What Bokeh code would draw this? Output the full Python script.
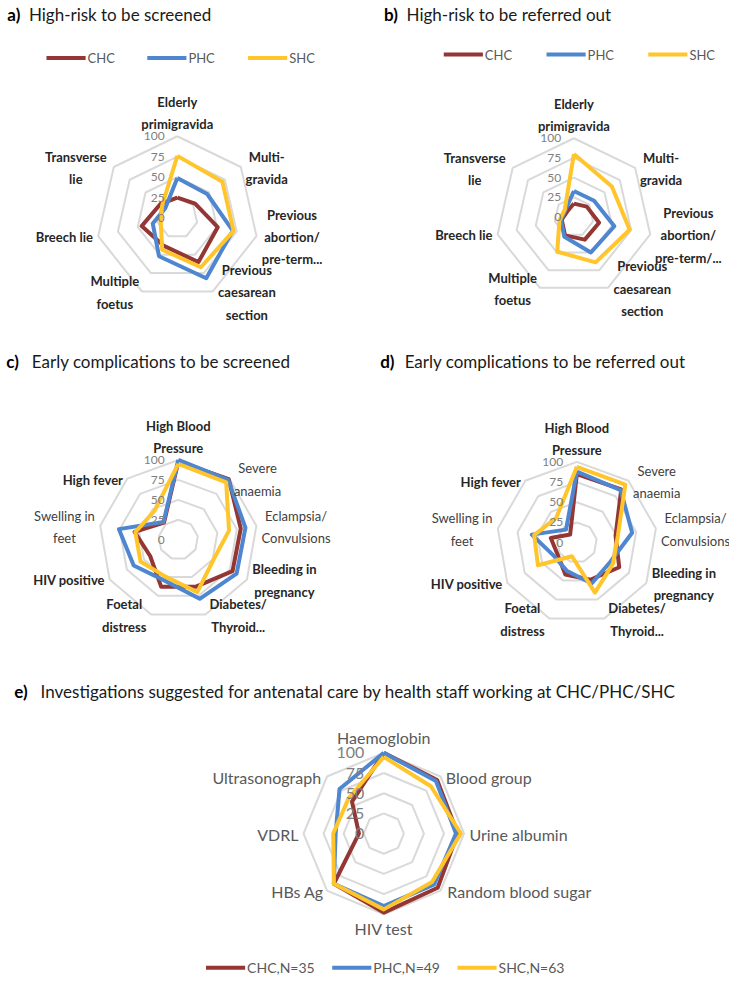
import math
from bokeh.plotting import figure
from bokeh.models import Range1d
from bokeh.core.properties import value
from bokeh.embed import file_html
from bokeh.resources import INLINE

# ---------------- data ----------------
series_names = ["CHC", "PHC", "SHC"]
series_names_e = ["CHC,N=35", "PHC,N=49", "SHC,N=63"]
ticks = [0, 25, 50, 75, 100]
tick_labels = ["0", "25", "50", "75", "100"]

cats_a = ["Elderly\nprimigravida", "Multi-\ngravida", "Previous\nabortion/\npre-term...",
          "Previous\ncaesarean\nsection", "Multiple\nfoetus", "Breech lie", "Transverse\nlie"]
a_chc = [25, 28, 51, 60, 38, 45, 27]
a_phc = [49, 47, 70, 82, 52, 31, 19]
a_shc = [76, 71, 71, 67, 43, 21, 24]

cats_b = ["Elderly\nprimigravida", "Multi-\ngravida", "Previous\nabortion/\npre-term/...",
          "Previous\ncaesarean\nsection", "Multiple\nfoetus", "Breech lie", "Transverse\nlie"]
b_chc = [17, 21, 33, 32, 26, 16, 11]
b_phc = [33, 33, 53, 50, 28, 17, 14]
b_shc = [80, 62, 73, 64, 49, 19, 15]

cats_cd = ["High Blood\nPressure", "Severe\nanaemia", "Eclampsia/\nConvulsions",
           "Bleeding in\npregnancy", "Diabetes/\nThyroid...", "Foetal\ndistress",
           "HIV positive", "Swelling in\nfeet", "High fever"]
c_chc = [98, 99, 80, 79, 63, 63, 41, 56, 28]
c_phc = [100, 98, 86, 85, 79, 54, 65, 76, 29]
c_shc = [95, 94, 65, 51, 70, 49, 55, 55, 47]

d_chc = [85, 86, 49, 61, 49, 42, 28, 33, 13]
d_phc = [88, 85, 70, 48, 54, 37, 33, 57, 21]
d_shc = [94, 94, 52, 52, 66, 18, 56, 54, 40]

cats_e = ["Haemoglobin", "Blood group", "Urine albumin", "Random blood sugar",
          "HIV test", "HBs Ag", "VDRL", "Ultrasonograph"]
e_chc = [100, 94, 92, 95, 98, 88, 31, 56]
e_phc = [100, 92, 90, 89, 90, 88, 60, 78]
e_shc = [95, 83, 96, 85, 94, 88, 63, 62]

titles_bold = ["a)", "b)", "c)", "d)", "e)"]
titles_text = ["High-risk to be screened", "High-risk to be referred out",
               "Early complications to be screened", "Early complications to be referred out",
               "Investigations suggested for antenatal care by health staff working at CHC/PHC/SHC"]

# ---------------- style ----------------
COLORS = ["#943634", "#4F86D0", "#FFC52A"]
RING = "#D9D9D9"
FONT = value("Lato")
BOLD_CD = [True, False, False, True, True, True, True, False, True]

# rough Lato glyph advance widths (em) used only to centre multi-line labels
_W = {"a": .49, "b": .54, "c": .45, "d": .54, "e": .50, "f": .31, "g": .49, "h": .54,
      "i": .24, "j": .24, "k": .49, "l": .24, "m": .81, "n": .54, "o": .54, "p": .54,
      "q": .54, "r": .36, "s": .42, "t": .34, "u": .54, "v": .49, "w": .74, "x": .48,
      "y": .49, "z": .44, " ": .19, "-": .33, "/": .35, ".": .22, "I": .28}


def text_width(s, px, bold):
    w = sum(_W.get(ch, .65) for ch in s) * px * 1.12
    return w * (1.04 if bold else 1.0)


p = figure(width=729, height=976, x_range=Range1d(0, 745), y_range=Range1d(992, 0),
           output_backend="svg", toolbar_location=None, min_border=0,
           x_axis_type=None, y_axis_type=None)
p.grid.visible = False
p.outline_line_color = None
p.background_fill_color = "white"


def vertex(cx, cy, R, i, n, v):
    a = 2 * math.pi * i / n
    return cx + R * v / 100 * math.sin(a), cy - R * v / 100 * math.cos(a)


def radar(cx, cy, R, cats, series, bold, lab_px, lab_color, tick_size, tick_dx, top_gap):
    n = len(cats)
    # rings
    xs_r, ys_r = [], []
    for t in ticks[1:]:
        pts = [vertex(cx, cy, R, i, n, t) for i in range(n + 1)]
        xs_r.append([q[0] for q in pts])
        ys_r.append([q[1] for q in pts])
    p.multi_line(xs_r, ys_r, line_color=RING, line_width=2)
    # series
    for vals, col in zip(series, COLORS):
        pts = [vertex(cx, cy, R, i, n, v) for i, v in enumerate(vals)]
        pts.append(pts[0])
        p.line([q[0] for q in pts], [q[1] for q in pts], line_color=col, line_width=4,
               line_join="round")
    # tick labels
    p.text(x=[cx - tick_dx] * len(ticks), y=[cy - R * t / 100 for t in ticks], text=tick_labels,
           text_font=FONT, text_font_size=tick_size, text_color="#808080",
           text_align="right", text_baseline="middle")
    # category labels (lines centred inside their block, as in the original)
    groups = {}
    for i, c in enumerate(cats):
        a = 2 * math.pi * i / n
        s, co = math.sin(a), math.cos(a)
        vx, vy = vertex(cx, cy, R, i, n, 100)
        w = max(text_width(line, lab_px, bold[i]) for line in c.split("\n"))
        if abs(s) < 0.15:
            if co > 0:
                bl, x, y = "bottom", vx, vy - top_gap
            else:
                bl, x, y = "top", vx, vy + 5
        else:
            sign = 1 if s > 0 else -1
            bl, x, y = "middle", vx + sign * (3 + w / 2), vy + 1
        key = (bl, bold[i])
        g = groups.setdefault(key, dict(x=[], y=[], t=[]))
        g["x"].append(x)
        g["y"].append(y)
        g["t"].append(c)
    for (bl, b), g in groups.items():
        p.text(x=g["x"], y=g["y"], text=g["t"], text_font=FONT, text_font_size=f"{lab_px}px",
               text_font_style="bold" if b else "normal",
               text_color=("#262626" if b else "#404040") if lab_color is None else lab_color,
               text_align="center", text_baseline=bl, text_line_height=1.4)


def legend(x0s, y, names, size):
    for x0, col in zip(x0s, COLORS):
        p.line([x0, x0 + 40], [y, y], line_color=col, line_width=4)
    p.text(x=[x0 + 42 for x0 in x0s], y=[y] * len(names), text=names, text_font=FONT,
           text_font_size=size, text_color="#595959", text_align="left", text_baseline="middle")


def title(xb, xt, y, k):
    p.text(x=[xb], y=[y], text=[titles_bold[k]], text_font=FONT, text_font_size="17px",
           text_font_style="bold", text_color="#000000", text_baseline="alphabetic")
    p.text(x=[xt], y=[y], text=[titles_text[k]], text_font=FONT, text_font_size="17px",
           text_color="#1a1a1a", text_baseline="alphabetic")


# panel a
title(7, 29, 14, 0)
legend([47, 150, 253], 58.5, series_names, "13px")
radar(180.7, 221, 83, cats_a, (a_chc, a_phc, a_shc), [True] * 7, 13, None, "12px", 13, 4)
# panel b
title(392, 415, 14, 1)
legend([453, 558, 662], 55, series_names, "13px")
radar(586, 220, 80, cats_b, (b_chc, b_phc, b_shc), [True] * 7, 13, None, "12px", 13, 4)
# panel c
title(6, 32, 367, 2)
radar(181.7, 548, 81, cats_cd, (c_chc, c_phc, c_shc), BOLD_CD, 13, None, "12px", 14, 4)
# panel d
title(388, 413, 367, 3)
radar(589, 551, 82, cats_cd, (d_chc, d_phc, d_shc), BOLD_CD, 13, None, "12px", 14, 4)
# panel e
title(14, 41, 702, 4)
radar(391.7, 846.7, 82, cats_e, (e_chc, e_phc, e_shc), [False] * 8, 16, "#595959", "16px", 20, 6)
legend([210, 339, 467], 983, series_names_e, "14px")

open("out.html", "w").write(file_html(p, INLINE))
